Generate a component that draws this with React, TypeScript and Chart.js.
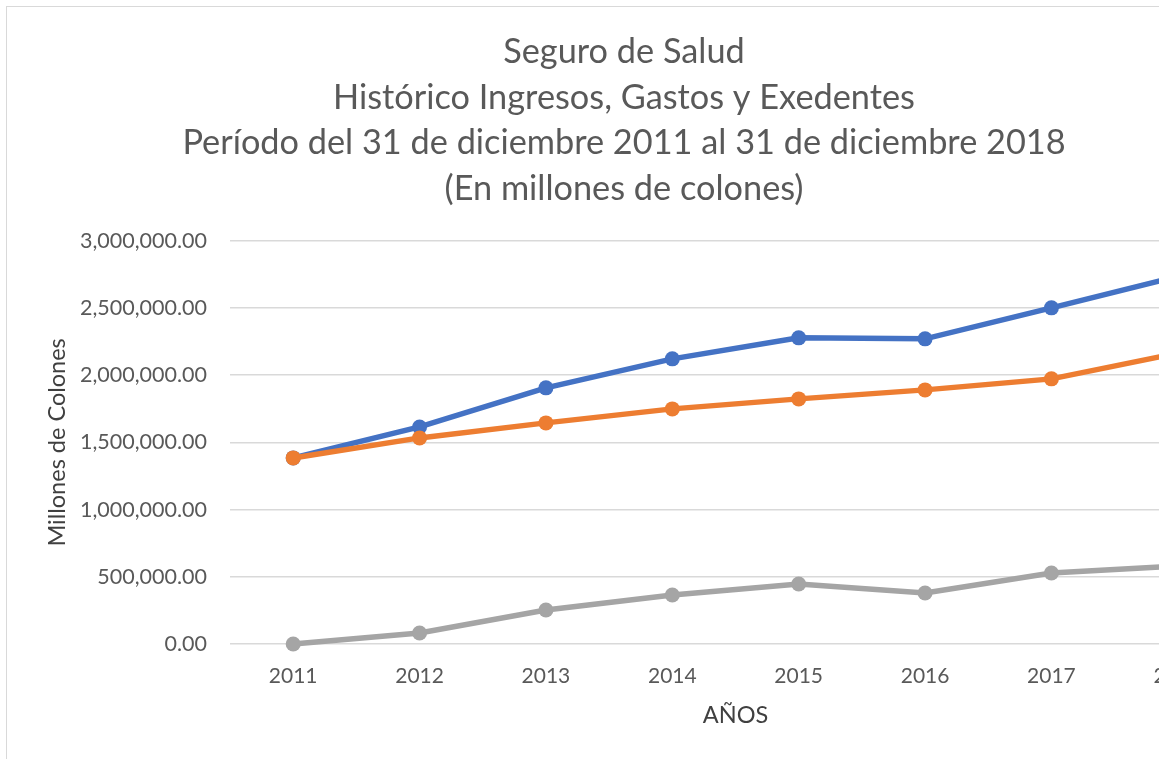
import React, { useEffect, useRef } from "react";
import { Chart, registerables } from "chart.js";

Chart.register(...registerables);

const years = ["2011", "2012", "2013", "2014", "2015", "2016", "2017", "2018"];
const ingresos = [1384600, 1615000, 1905700, 2121600, 2277900, 2270500, 2501200, 2735700];
const gastos = [1384600, 1533500, 1645200, 1749400, 1823800, 1890800, 1972700, 2164000];
const excedentes = [0, 81900, 253100, 364800, 446700, 379700, 528500, 580600];
const titleLines = [
  "Seguro de Salud",
  "Histórico Ingresos, Gastos y Exedentes",
  "Período del 31 de diciembre 2011 al 31 de diciembre 2018",
  "(En millones de colones)",
];
const yTitle = "Millones de Colones";
const xTitle = "AÑOS";

const FONT = "Lato, 'Open Sans', sans-serif";

export default function App() {
  const ref = useRef<HTMLCanvasElement>(null);
  useEffect(() => {
    if (!ref.current) return;
    const mk = (label: string, data: number[], color: string, order: number) => ({
      label,
      data,
      borderColor: color,
      backgroundColor: color,
      pointBackgroundColor: color,
      pointBorderColor: color,
      borderWidth: 5.5,
      pointRadius: 7.5,
      pointBorderWidth: 0,
      tension: 0,
      clip: false as any,
      order,
    });
    const chart = new Chart(ref.current, {
      type: "line",
      data: {
        labels: years,
        datasets: [
          mk("Ingresos", ingresos, "#4472C4", 2),
          mk("Gastos", gastos, "#ED7D31", 1),
          mk("Excedentes", excedentes, "#A5A5A5", 3),
        ],
      },
      options: {
        animation: false,
        responsive: true,
        maintainAspectRatio: false,
        layout: { padding: { left: 0, right: 32, top: 0, bottom: 33 } },
        plugins: {
          legend: { display: false },
          tooltip: { enabled: false },
          title: {
            display: true,
            text: titleLines,
            color: "#595959",
            font: { family: FONT, size: 34.3, weight: "normal", lineHeight: 45.7 / 34.3 },
            padding: { top: 22, bottom: 29 },
          },
        },
        scales: {
          x: {
            offset: true,
            grid: { display: false, drawTicks: false },
            border: { display: false },
            ticks: { color: "#595959", font: { family: FONT, size: 21 }, padding: 20 },
            title: {
              display: true,
              text: xTitle,
              color: "#404040",
              font: { family: FONT, size: 23.5, lineHeight: 1.2 },
              padding: { top: 0, bottom: 24 },
            },
            afterFit: (s: any) => {
              s.height = 110;
            },
          },
          y: {
            min: 0,
            max: 3000000,
            grid: { color: "#d9d9d9", lineWidth: 1.5, drawTicks: false },
            border: { display: false },
            ticks: {
              stepSize: 500000,
              color: "#595959",
              font: { family: FONT, size: 21.5 },
              padding: 23,
              callback: (v: any) =>
                Number(v).toLocaleString("en-US", { minimumFractionDigits: 2, maximumFractionDigits: 2 }),
            },
            title: {
              display: true,
              text: yTitle,
              color: "#404040",
              font: { family: FONT, size: 23.5, lineHeight: 1.2 },
              padding: { top: 36, bottom: 0 },
            },
            afterFit: (s: any) => {
              s.width = 223;
            },
          },
        },
      },
    });
    return () => chart.destroy();
  }, []);
  return (
    <div style={{ position: "fixed", inset: 0, overflow: "hidden", background: "#fff" }}>
      <div
        style={{
          position: "absolute",
          left: 6,
          top: 6,
          width: 1266,
          height: 780,
          border: "1px solid #d9d9d9",
        }}
      >
        <canvas ref={ref} />
      </div>
    </div>
  );
}
